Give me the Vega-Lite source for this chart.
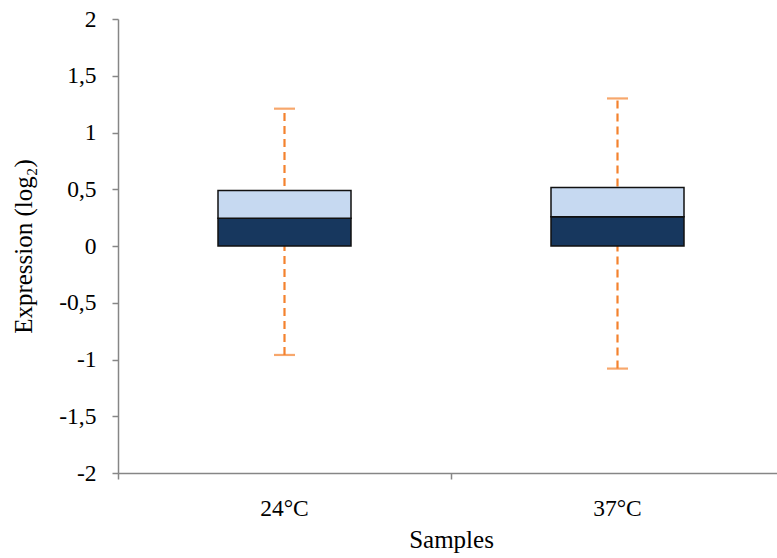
{
  "$schema": "https://vega.github.io/schema/vega-lite/v6.json",
  "width": 666,
  "height": 454,
  "autosize": "none",
  "padding": {"left": 118, "top": 19, "right": 0, "bottom": 85},
  "background": "white",
  "config": {
    "view": {"stroke": null},
    "font": "Liberation Serif",
    "axis": {
      "domainColor": "#868686",
      "tickColor": "#868686",
      "domainWidth": 1.5,
      "tickWidth": 1.5,
      "labelFont": "Liberation Serif",
      "titleFont": "Liberation Serif",
      "labelFontSize": 23.5,
      "titleFontSize": 25,
      "labelColor": "#000000",
      "titleColor": "#000000",
      "titleFontWeight": "normal",
      "grid": false
    }
  },
  "data": {
    "values": [
      {"sample": "24°C", "min": -0.96, "q1": 0, "median": 0.245, "q3": 0.488, "max": 1.21},
      {"sample": "37°C", "min": -1.08, "q1": 0, "median": 0.258, "q3": 0.515, "max": 1.3}
    ]
  },
  "encoding": {
    "x": {
      "field": "sample",
      "type": "nominal",
      "sort": null,
      "scale": {"paddingInner": 0, "paddingOuter": 0},
      "axis": {
        "title": "Samples",
        "labelAngle": 0,
        "tickSize": 6,
        "bandPosition": 0,
        "labelPadding": 17,
        "titlePadding": 8
      }
    }
  },
  "layer": [
    {
      "mark": {"type": "rule", "color": "#F4822E", "strokeWidth": 2.2, "strokeDash": [8, 5]},
      "encoding": {
        "y": {
          "field": "min",
          "type": "quantitative",
          "scale": {"domain": [-2, 2], "nice": false, "zero": false},
          "axis": {
            "title": "Expression (log₂)",
            "values": [-2, -1.5, -1, -0.5, 0, 0.5, 1, 1.5, 2],
            "labelExpr": "replace(datum.value + '', '.', ',')",
            "tickSize": 6,
            "labelPadding": 16,
            "titlePadding": 22
          }
        },
        "y2": {"field": "max"}
      }
    },
    {
      "mark": {"type": "tick", "color": "#F4822E", "size": 21, "thickness": 2.2},
      "encoding": {"y": {"field": "min", "type": "quantitative"}}
    },
    {
      "mark": {"type": "tick", "color": "#F4822E", "size": 21, "thickness": 2.2},
      "encoding": {"y": {"field": "max", "type": "quantitative"}}
    },
    {
      "mark": {"type": "bar", "size": 133, "color": "#17375E", "stroke": "#111111", "strokeWidth": 1.5},
      "encoding": {
        "y": {"field": "q1", "type": "quantitative"},
        "y2": {"field": "median"}
      }
    },
    {
      "mark": {"type": "bar", "size": 133, "color": "#C6D9F1", "stroke": "#111111", "strokeWidth": 1.5},
      "encoding": {
        "y": {"field": "median", "type": "quantitative"},
        "y2": {"field": "q3"}
      }
    }
  ]
}
